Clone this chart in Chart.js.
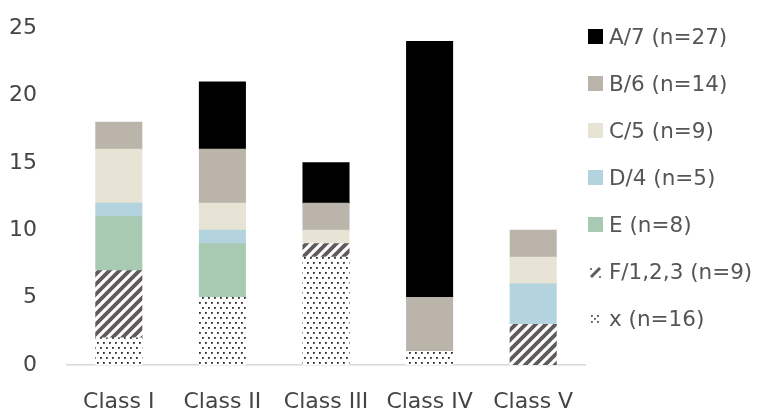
<!DOCTYPE html>
<html><head><meta charset="utf-8">
<script src="https://cdn.jsdelivr.net/npm/chart.js@4/dist/chart.umd.min.js"></script>
<style>
html,body{margin:0;padding:0;background:#fff}
#wrap{position:relative;width:757px;height:414px;overflow:hidden}
#legend{position:absolute;left:588px;top:0;font-family:"DejaVu Sans",sans-serif;font-size:21.5px;color:#555}
.item{position:absolute;left:0;white-space:nowrap;height:26px;line-height:26px}
.item canvas{position:absolute;left:0;top:5px}
.item span{position:absolute;left:21px;top:0}
</style>
</head><body><div id="wrap"><canvas id="c" width="757" height="414"></canvas><div id="legend"></div></div>
<script>
const categories = ["Class I","Class II","Class III","Class IV","Class V"];
const seriesNames = ["x (n=16)","F/1,2,3 (n=9)","E (n=8)","D/4 (n=5)","C/5 (n=9)","B/6 (n=14)","A/7 (n=27)"];
const xVals = [2,5,8,1,0];
const fVals = [5,0,1,0,3];
const eVals = [4,4,0,0,0];
const dVals = [1,1,0,0,3];
const cVals = [4,2,1,0,2];
const bVals = [2,4,2,4,2];
const aVals = [0,5,3,19,0];
const yTicks = [0,5,10,15,20,25];

function hatch(ctxBg){
  const s=10, cv=document.createElement('canvas'); cv.width=s; cv.height=s;
  const g=cv.getContext('2d'); if(ctxBg){g.fillStyle='#fff'; g.fillRect(0,0,s,s);}
  g.strokeStyle='#5f5b5b'; g.lineWidth=3.8;
  g.beginPath();
  g.moveTo(-2,s+2); g.lineTo(s+2,-2);
  g.moveTo(-3,3); g.lineTo(3,-3);
  g.moveTo(s-3,s+3); g.lineTo(s+3,s-3);
  g.stroke();
  return cv;
}
function dots(){
  const w=6,h=10, cv=document.createElement('canvas'); cv.width=w; cv.height=h;
  const g=cv.getContext('2d'); g.fillStyle='#fff'; g.fillRect(0,0,w,h);
  g.fillStyle='#2a2a2a';
  g.fillRect(1,2,1.8,1.8); g.fillRect(4,7,1.8,1.8);
  return cv;
}
const ctx=document.getElementById('c').getContext('2d');
const colors=[ctx.createPattern(dots(),'repeat'),ctx.createPattern(hatch(true),'repeat'),'#a8cab2','#b3d4df','#e7e4d6','#bab4ab','#000000'];
const vals=[xVals,fVals,eVals,dVals,cVals,bVals,aVals];
const datasets = seriesNames.map((n,i)=>({label:n,data:vals[i].map(v=>v===0?null:v),backgroundColor:colors[i],borderWidth:0,inflateAmount:0.5,barPercentage:0.889,categoryPercentage:0.5}));
const font='"DejaVu Sans", sans-serif';
new Chart(ctx,{
  type:'bar',
  data:{labels:categories,datasets},
  options:{
    responsive:false,animation:false,
    layout:{padding:{left:0,right:172,top:28,bottom:0}},
    plugins:{tooltip:{enabled:false},legend:{display:false}},
    scales:{
      x:{stacked:true,grid:{display:false,drawTicks:false},border:{color:'#d9d9d9',width:1.5},
         afterFit:(s)=>{s.height=49;s.paddingLeft=0;s.paddingRight=0;},
         ticks:{font:{family:font,size:22},color:'#444',padding:24,maxRotation:0}},
      y:{stacked:true,min:0,max:25,grid:{display:false,drawTicks:false},border:{display:false},
         afterFit:(s)=>{s.width=67;s.paddingTop=0;s.paddingBottom=0;},
         afterBuildTicks:(ax)=>{ax.ticks=yTicks.map(v=>({value:v}));},
         ticks:{font:{family:font,size:22},color:'#444',padding:30}}
    }
  }
});
// HTML legend (top item first)
const leg=document.getElementById('legend');
for(let k=0;k<seriesNames.length;k++){
  const i=seriesNames.length-1-k;
  const d=document.createElement('div'); d.className='item'; d.style.top=(24+47*k)+'px';
  const sw=document.createElement('canvas'); sw.width=15; sw.height=15;
  const g=sw.getContext('2d');
  if(i===0){ g.fillStyle='#555'; [[3,4],[9,4],[6,7],[3,10],[9,10]].forEach(p=>g.fillRect(p[0],p[1],1.8,1.8)); }
  else if(i===1){ g.strokeStyle='#5f5b5b'; g.lineWidth=3; g.beginPath(); g.moveTo(3,13); g.lineTo(12,4); g.stroke(); g.fillStyle='#777'; g.fillRect(2,4,2,2); g.fillRect(11,12,2,2);}
  else { g.fillStyle=colors[i]; g.fillRect(0,0,15,15); }
  const t=document.createElement('span'); t.textContent=seriesNames[i];
  d.appendChild(sw); d.appendChild(t); leg.appendChild(d);
}
</script></body></html>
